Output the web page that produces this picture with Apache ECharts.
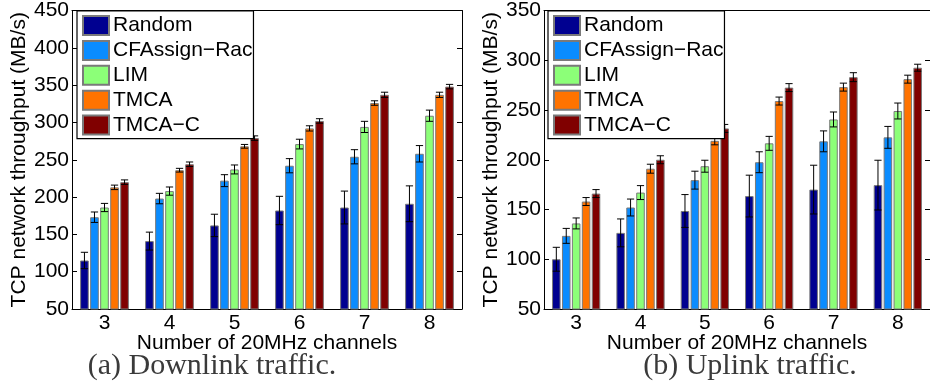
<!DOCTYPE html>
<html>
<head>
<meta charset="utf-8">
<script src="https://cdn.jsdelivr.net/npm/echarts@6/dist/echarts.min.js"></script>
<style>
  html, body { margin: 0; padding: 0; background: #fff; }
  #chart { width: 930px; height: 385px; }
</style>
</head>
<body>
<div id="chart"></div>
<script>
// Channel counts on the x axis
const categories = ['3', '4', '5', '6', '7', '8'];
const seriesNames = ['Random', 'CFAssign\u2212Rac', 'LIM', 'TMCA', 'TMCA\u2212C'];
const seriesColors = ['#000090', '#0a8cff', '#8cff78', '#ff7300', '#800000'];

// (a) Downlink throughput, MB/s, with error half-widths
const downRandom = [115, 141, 162, 182, 186, 191];
const downCfassign = [173, 198, 222, 242, 254, 258];
const downLim = [186, 208, 237, 271, 294, 309];
const downTmca = [213, 236, 268, 292, 326, 337];
const downTmcaC = [220, 244, 279, 302, 337, 348];
const downRandomErr = [11, 12, 15, 19, 22, 24];
const downCfassignErr = [7, 7, 8, 9.5, 9.5, 11];
const downLimErr = [5.5, 5.5, 6, 6.5, 7.5, 7.5];
const downTmcaErr = [3, 2.5, 2.5, 3.5, 3, 3.5];
const downTmcaCErr = [3, 3, 3, 3, 3.5, 3];

// (b) Uplink throughput, MB/s, with error half-widths
const upRandom = [100, 126.5, 148.5, 163.5, 170, 174.5];
const upCfassign = [123.5, 152, 179.5, 197.5, 218.5, 222.5];
const upLim = [136, 167, 193.5, 216.5, 240.5, 249];
const upTmca = [158, 191, 219, 259, 273, 281];
const upTmcaC = [166, 200, 231.5, 272.5, 283, 292.5];
const upRandomErr = [12, 14, 16.5, 21, 24.5, 25];
const upCfassignErr = [7.5, 8.5, 9, 10.5, 10.5, 11];
const upLimErr = [5.5, 7, 6, 7, 7.5, 8];
const upTmcaErr = [4, 4.5, 4, 4, 4, 4];
const upTmcaCErr = [4, 4, 4, 4, 4.5, 3.5];

// Y-axis ranges
const downAxis = { min: 50, max: 450, interval: 50 };
const upAxis = { min: 50, max: 350, interval: 50 };

const panels = [
  { values: [downRandom, downCfassign, downLim, downTmca, downTmcaC],
    errors: [downRandomErr, downCfassignErr, downLimErr, downTmcaErr, downTmcaCErr],
    axis: downAxis },
  { values: [upRandom, upCfassign, upLim, upTmca, upTmcaC],
    errors: [upRandomErr, upCfassignErr, upLimErr, upTmcaErr, upTmcaCErr],
    axis: upAxis }
];

const BAR_FRAC = 0.133;   // bar width as a fraction of the category band
const GAP_FRAC = 0.16;    // gap between bars relative to bar width
const FONT = '"Liberation Sans", Arial, Helvetica, sans-serif';
const FS = 21;

const chart = echarts.init(document.getElementById('chart'), null, { renderer: 'canvas' });

const grids = [
  { left: 72, top: 6, width: 390, height: 303 },
  { left: 544, top: 7, width: 389, height: 302 }
];

const xAxes = [];
const yAxes = [];
const series = [];

panels.forEach(function (p, g) {
  // bottom category axis
  xAxes.push({
    type: 'category', gridIndex: g, data: categories, position: 'bottom',
    name: 'Number of 20MHz channels', nameLocation: 'middle', nameGap: 24,
    nameMoveOverlap: false,
    nameTextStyle: { fontFamily: FONT, fontSize: FS, color: '#000' },
    axisLine: { lineStyle: { color: '#000', width: 1 } },
    axisTick: { inside: true, alignWithLabel: true, length: 5, lineStyle: { color: '#000' } },
    axisLabel: { fontFamily: FONT, fontSize: FS, color: '#000', margin: 4 },
    splitLine: { show: false }
  });
  // top box edge
  xAxes.push({
    type: 'category', gridIndex: g, data: categories, position: 'top',
    axisLine: { lineStyle: { color: '#000', width: 1 } },
    axisTick: { inside: true, alignWithLabel: true, length: 5, lineStyle: { color: '#000' } },
    axisLabel: { show: false }, splitLine: { show: false }
  });
  // left value axis
  yAxes.push({
    type: 'value', gridIndex: g, position: 'left',
    min: p.axis.min, max: p.axis.max, interval: p.axis.interval,
    name: 'TCP network throughput (MB/s)', nameLocation: 'middle', nameGap: 40,
    nameTextStyle: { fontFamily: FONT, fontSize: FS, color: '#000' },
    axisLine: { show: true, lineStyle: { color: '#000', width: 1 } },
    axisTick: { show: true, inside: true, length: 5, lineStyle: { color: '#000' } },
    axisLabel: { fontFamily: FONT, fontSize: FS, color: '#000', margin: 3 },
    splitLine: { show: false }
  });
  // right box edge
  yAxes.push({
    type: 'value', gridIndex: g, position: 'right',
    min: p.axis.min, max: p.axis.max, interval: p.axis.interval,
    axisLine: { show: true, lineStyle: { color: '#000', width: 1 } },
    axisTick: { show: true, inside: true, length: 5, lineStyle: { color: '#000' } },
    axisLabel: { show: false }, splitLine: { show: false }
  });

  const xIdx = g * 2;
  const yIdx = g * 2;

  p.values.forEach(function (vals, i) {
    series.push({
      type: 'bar', name: seriesNames[i],
      xAxisIndex: xIdx, yAxisIndex: yIdx,
      data: vals,
      barWidth: (BAR_FRAC * 100) + '%',
      barGap: (GAP_FRAC * 100) + '%',
      itemStyle: { color: seriesColors[i], borderColor: '#7a7a7a', borderWidth: 1 },
      emphasis: { disabled: true },
      animation: false
    });
  });

  // error bars drawn on top of every bar
  p.values.forEach(function (vals, i) {
    const errs = p.errors[i];
    series.push({
      type: 'custom',
      xAxisIndex: xIdx, yAxisIndex: yIdx,
      data: vals.map(function (v, k) { return [k, v, errs[k]]; }),
      z: 5,
      silent: true,
      animation: false,
      renderItem: function (params, api) {
        const k = api.value(0);
        const v = api.value(1);
        const e = api.value(2);
        const band = api.size([1, 0])[0];
        const barW = band * BAR_FRAC;
        const slot = barW * (1 + GAP_FRAC);
        const n = seriesNames.length;
        const center = api.coord([k, v]);
        const x = center[0] + (i - (n - 1) / 2) * slot;
        const yTop = api.coord([k, v + e])[1];
        const yBot = api.coord([k, v - e])[1];
        const cap = barW * 0.42;
        const style = { stroke: '#000', lineWidth: 1 };
        return {
          type: 'group',
          children: [
            { type: 'line', shape: { x1: x, y1: yTop, x2: x, y2: yBot }, style: style },
            { type: 'line', shape: { x1: x - cap, y1: yTop, x2: x + cap, y2: yTop }, style: style },
            { type: 'line', shape: { x1: x - cap, y1: yBot, x2: x + cap, y2: yBot }, style: style }
          ]
        };
      }
    });
  });
});

const legendBase = {
  orient: 'vertical',
  data: seriesNames,
  icon: 'rect',
  itemWidth: 26,
  itemHeight: 19,
  itemGap: 3.9,
  padding: [4, 1, 3, 5],
  backgroundColor: '#fff',
  borderColor: '#000',
  borderWidth: 1.2,
  borderRadius: 0,
  selectedMode: false,
  textStyle: { fontFamily: FONT, fontSize: FS, color: '#000', padding: [0, 0, 0, -1] },
  z: 10
};

chart.setOption({
  backgroundColor: '#fff',
  animation: false,
  grid: grids,
  xAxis: xAxes,
  yAxis: yAxes,
  legend: [
    Object.assign({}, legendBase, { left: 77, top: 11 }),
    Object.assign({}, legendBase, { left: 548, top: 11 })
  ],
  series: series,
  graphic: [
    { type: 'text', x: 212, y: 366,
      style: { text: '(a) Downlink traffic.', fontFamily: '"Liberation Serif", "Times New Roman", serif',
               fontSize: 30, fill: '#3a3a3a', textAlign: 'center', textVerticalAlign: 'middle' } },
    { type: 'text', x: 750, y: 366,
      style: { text: '(b) Uplink traffic.', fontFamily: '"Liberation Serif", "Times New Roman", serif',
               fontSize: 30, fill: '#3a3a3a', textAlign: 'center', textVerticalAlign: 'middle' } }
  ]
});
</script>
</body>
</html>
